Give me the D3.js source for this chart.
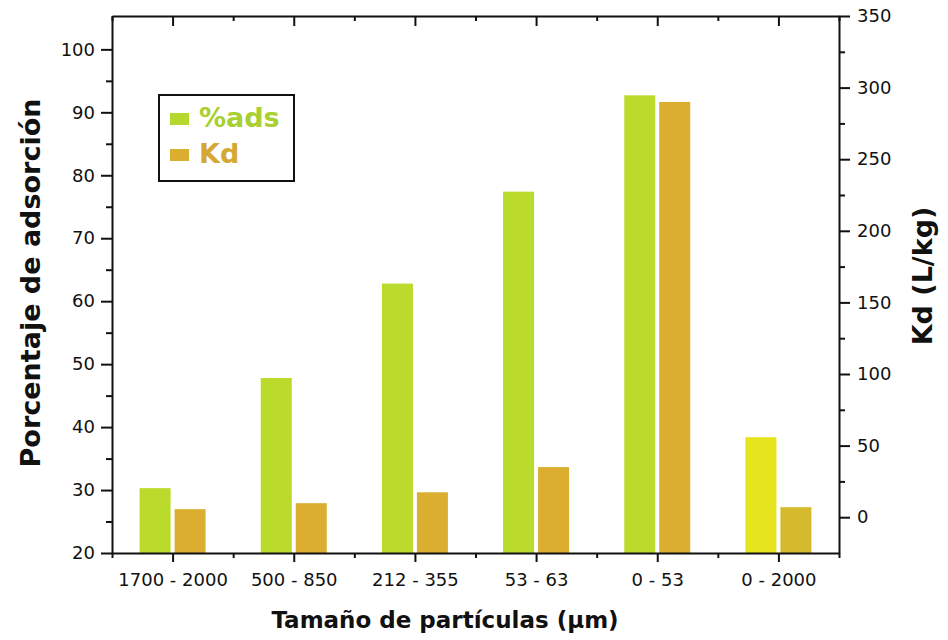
<!DOCTYPE html>
<html>
<head>
<meta charset="utf-8">
<script src="https://cdn.jsdelivr.net/npm/d3@7"></script>
<style>
  body { margin: 0; background: #fff; }
  svg text { font-family: 'DejaVu Sans', sans-serif; }
</style>
</head>
<body>
<svg id="chart" width="948" height="640"></svg>
<script>

const categories = ['1700 - 2000', '500 - 850', '212 - 355', '53 - 63', '0 - 53', '0 - 2000']
const adsValues = [30.3, 47.8, 62.8, 77.4, 92.7, 38.4]
const kdValues = [5.6, 9.8, 17.4, 35, 290, 7]
const leftTicks = [20, 30, 40, 50, 60, 70, 80, 90, 100]
const leftMinor = [25, 35, 45, 55, 65, 75, 85, 95]
const rightTicks = [0, 50, 100, 150, 200, 250, 300, 350]
const rightMinor = [25, 75, 125, 175, 225, 275, 325]
const seriesNames = ['%ads', 'Kd']

const width = 948, height = 640
const m = { top: 16, right: 109, bottom: 87, left: 112 }
const iw = width - m.left - m.right
const ih = height - m.top - m.bottom

const svg = d3.select('#chart')
const g = svg.append('g').attr('transform', `translate(${m.left},${m.top})`)

const x = d3.scaleBand().domain(categories).range([0, iw]).padding(0)
const bw = x.bandwidth()
const xSub = d3.scaleBand().domain(seriesNames).range([bw / 2 - 33, bw / 2 + 33]).paddingInner(0.114)
const yLeft = d3.scaleLinear().domain([20, 105.3]).range([ih, 0])
const yRight = d3.scaleLinear().domain([-25, 350]).range([ih, 0])

// colours, the last group is a bit more yellow in the scan
const adsColor = (d, i) => i === 5 ? '#e6e41e' : '#bada2c'
const kdColor = (d, i) => i === 5 ? '#d6ba2e' : '#dcae30'

// bars
g.append('g').selectAll('rect').data(adsValues).join('rect')
    .attr('x', (d, i) => x(categories[i]) + xSub('%ads'))
    .attr('y', d => yLeft(d))
    .attr('width', xSub.bandwidth())
    .attr('height', d => ih - yLeft(d))
    .attr('fill', adsColor)

g.append('g').selectAll('rect').data(kdValues).join('rect')
    .attr('x', (d, i) => x(categories[i]) + xSub('Kd'))
    .attr('y', d => yRight(d))
    .attr('width', xSub.bandwidth())
    .attr('height', d => ih - yRight(d))
    .attr('fill', kdColor)

// axes
const centers = categories.map(c => x(c) + bw / 2)
const bounds = categories.map(c => x(c)).concat([iw])
const xLin = d3.scaleLinear().domain([0, iw]).range([0, iw])

function styleAxis (sel) {
    sel.selectAll('.domain').attr('stroke', '#111').attr('stroke-width', 2)
    sel.selectAll('.tick line').attr('stroke', '#111').attr('stroke-width', 2)
    sel.selectAll('.tick text').attr('fill', '#111').style('font-size', '18px').style('font-family', 'DejaVu Sans')
}

// bottom
g.append('g').attr('transform', `translate(0,${ih})`)
    .call(d3.axisBottom(xLin).tickValues(bounds).tickSize(5).tickSizeOuter(0).tickFormat(''))
    .call(styleAxis)
g.append('g').attr('transform', `translate(0,${ih})`)
    .call(d3.axisBottom(xLin).tickValues(centers).tickSize(9).tickPadding(11).tickFormat((d, i) => categories[i]))
    .call(styleAxis)
    .call(s => s.select('.domain').remove())

// top frame
g.append('g')
    .call(d3.axisTop(xLin).tickValues(bounds).tickSize(-5).tickSizeOuter(0).tickFormat(''))
    .call(styleAxis)
g.append('g')
    .call(d3.axisTop(xLin).tickValues(centers).tickSize(-10).tickFormat(''))
    .call(styleAxis)
    .call(s => s.select('.domain').remove())

// left
g.append('g')
    .call(d3.axisLeft(yLeft).tickValues(leftMinor).tickSize(6).tickSizeOuter(0).tickFormat(''))
    .call(styleAxis)
g.append('g')
    .call(d3.axisLeft(yLeft).tickValues(leftTicks).tickSize(11).tickPadding(6).tickFormat(d3.format('d')))
    .call(styleAxis)
    .call(s => s.select('.domain').remove())

// right
g.append('g').attr('transform', `translate(${iw},0)`)
    .call(d3.axisRight(yRight).tickValues(rightMinor).tickSize(6).tickSizeOuter(0).tickFormat(''))
    .call(styleAxis)
g.append('g').attr('transform', `translate(${iw},0)`)
    .call(d3.axisRight(yRight).tickValues(rightTicks).tickSize(11).tickPadding(7).tickFormat(d3.format('d')))
    .call(styleAxis)
    .call(s => s.select('.domain').remove())

// axis titles
svg.append('text')
    .attr('x', 445).attr('y', 628)
    .attr('text-anchor', 'middle')
    .attr('font-weight', 'bold').attr('font-size', 23).attr('fill', '#111')
    .text('Tamaño de partículas (µm)')

svg.append('text')
    .attr('transform', 'translate(40,283) rotate(-90)')
    .attr('text-anchor', 'middle')
    .attr('font-weight', 'bold').attr('font-size', 27).attr('fill', '#111')
    .text('Porcentaje de adsorción')

svg.append('text')
    .attr('transform', 'translate(932,276) rotate(-90)')
    .attr('text-anchor', 'middle')
    .attr('font-weight', 'bold').attr('font-size', 27).attr('fill', '#111')
    .text('Kd (L/kg)')

// legend
const legend = svg.append('g').attr('transform', 'translate(159,95)')
legend.append('rect')
    .attr('width', 135).attr('height', 86)
    .attr('fill', '#fff').attr('stroke', '#111').attr('stroke-width', 2)

const legendColors = ['#b4d82c', '#dcae30']
const legendText = ['#a8d030', '#d4a832']
const items = legend.selectAll('.item').data(seriesNames).join('g')
    .attr('class', 'item')
    .attr('transform', (d, i) => `translate(11,${18 + i * 36})`)
items.append('rect').attr('width', 19).attr('height', 12).attr('fill', (d, i) => legendColors[i])
items.append('text')
    .attr('x', 29).attr('y', 14)
    .attr('font-weight', 'bold').attr('font-size', 27)
    .attr('fill', (d, i) => legendText[i])
    .text(d => d)

</script>
</body>
</html>
